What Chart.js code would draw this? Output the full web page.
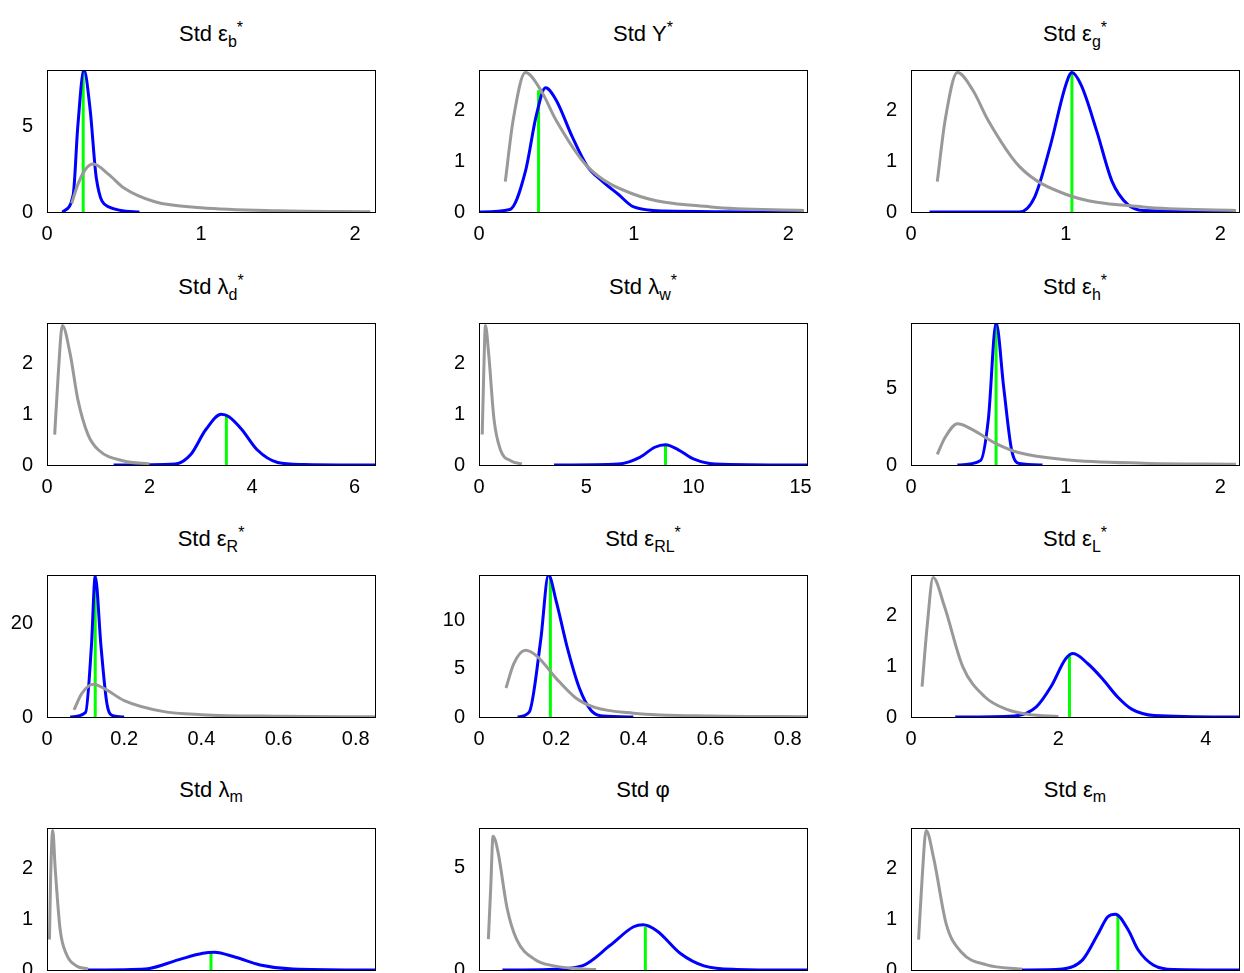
<!DOCTYPE html>
<html><head><meta charset="utf-8">
<script src="https://cdn.jsdelivr.net/npm/chart.js@4"></script>
<style>
body{margin:0;background:#fff;width:1244px;height:973px;overflow:hidden;position:relative;font-family:"Liberation Sans",Arial,sans-serif}
canvas{position:absolute}
.t{position:absolute;font-size:22px;text-align:center;width:300px;white-space:nowrap}
.t sub,.t sup{font-size:16px}
</style></head><body>
<script>
// titles
var titles = ['Std &epsilon;<sub>b</sub><sup>*</sup>', 'Std &Upsilon;<sup>*</sup>', 'Std &epsilon;<sub>g</sub><sup>*</sup>',
  'Std &lambda;<sub>d</sub><sup>*</sup>', 'Std &lambda;<sub>w</sub><sup>*</sup>', 'Std &epsilon;<sub>h</sub><sup>*</sup>',
  'Std &epsilon;<sub>R</sub><sup>*</sup>', 'Std &epsilon;<sub>RL</sub><sup>*</sup>', 'Std &epsilon;<sub>L</sub><sup>*</sup>',
  'Std &lambda;<sub>m</sub>', 'Std &phi;', 'Std &epsilon;<sub>m</sub>'];

// prior (gray) and posterior (blue) densities, [x, y]
var prior_eb = [[0.16,0.5],[0.2,1.6],[0.25,2.5],[0.3,2.8],[0.4,2.2],[0.5,1.4],[0.7,0.6],[1,0.25],[1.5,0.07],[2.1,0.02]];
var post_eb = [[0.1,0],[0.17,1],[0.2,5],[0.24,8.3],[0.28,6],[0.32,2],[0.4,0.3],[0.6,0]];
var prior_ups = [[0.17,0.6],[0.22,1.8],[0.3,2.75],[0.4,2.4],[0.5,1.8],[0.7,0.9],[1,0.35],[1.5,0.1],[2.1,0.03]];
var post_ups = [[0,0],[0.2,0.05],[0.3,0.8],[0.37,1.9],[0.43,2.45],[0.5,2.2],[0.6,1.5],[0.7,0.9],[0.8,0.6],[0.9,0.35],[1,0.1],[1.2,0.02],[2.1,0]];
var prior_eg = [[0.17,0.6],[0.22,1.8],[0.3,2.75],[0.4,2.4],[0.5,1.8],[0.7,0.9],[1,0.35],[1.5,0.1],[2.1,0.03]];
var post_eg = [[0.12,0],[0.7,0],[0.8,0.3],[0.9,1.3],[1,2.5],[1.04,2.75],[1.1,2.5],[1.2,1.6],[1.3,0.6],[1.4,0.15],[1.5,0.03],[2.1,0]];
var prior_ld = [[0.15,0.6],[0.22,1.8],[0.3,2.75],[0.45,2.2],[0.6,1.3],[0.8,0.6],[1,0.3],[1.5,0.08],[2,0.02]];
var post_ld = [[1.3,0],[2.5,0.02],[2.8,0.2],[3.1,0.7],[3.4,1.0],[3.55,0.95],[3.8,0.7],[4.1,0.3],[4.5,0.05],[5,0.01],[6.4,0]];
var prior_lw = [[0.15,0.6],[0.22,1.8],[0.3,2.75],[0.45,2.2],[0.7,0.9],[1,0.3],[1.5,0.08],[2,0.02]];
var post_lw = [[3.5,0],[6.5,0.02],[7.5,0.15],[8.2,0.35],[8.7,0.4],[9.3,0.3],[10,0.12],[11,0.02],[15.3,0]];
var prior_eh = [[0.17,0.7],[0.22,1.8],[0.3,2.7],[0.4,2.3],[0.55,1.4],[0.7,0.8],[1,0.35],[1.5,0.12],[2.1,0.05]];
var post_eh = [[0.3,0],[0.45,0.3],[0.5,3],[0.55,9.3],[0.6,5],[0.65,1],[0.7,0.1],[0.85,0]];
var prior_eR = [[0.07,1.5],[0.09,5],[0.12,7],[0.15,6],[0.2,3.5],[0.3,1.2],[0.4,0.5],[0.6,0.15],[0.85,0.05]];
var post_eR = [[0.06,0],[0.1,1],[0.115,15],[0.125,30],[0.14,15],[0.155,3],[0.17,0.3],[0.2,0]];
var prior_eRL = [[0.07,3],[0.09,5.5],[0.12,6.9],[0.15,6.3],[0.2,4],[0.25,2],[0.3,1],[0.4,0.4],[0.6,0.1],[0.85,0.03]];
var post_eRL = [[0.1,0],[0.13,0.5],[0.16,8],[0.18,14.7],[0.2,12],[0.23,7],[0.26,3],[0.29,0.7],[0.32,0.1],[0.4,0]];
var prior_eL = [[0.15,0.6],[0.22,1.8],[0.3,2.75],[0.45,2.2],[0.7,1.0],[1,0.4],[1.3,0.15],[1.6,0.05],[2,0.01]];
var post_eL = [[0.6,0],[1.4,0.02],[1.7,0.2],[1.9,0.6],[2.1,1.15],[2.2,1.25],[2.4,1.05],[2.6,0.75],[2.8,0.4],[3,0.15],[3.3,0.03],[4.45,0]];
var prior_lm = [[0.15,0.6],[0.22,1.8],[0.35,2.75],[0.5,2],[0.8,0.8],[1.2,0.3],[1.8,0.08],[2.5,0.02]];
var post_lm = [[2.5,0],[6,0.02],[8,0.2],[9.5,0.33],[10.2,0.35],[11.5,0.25],[13,0.1],[15,0.02],[20,0]];
var prior_phi = [[0.2,1.5],[0.25,4],[0.3,6.5],[0.4,5.8],[0.6,3],[0.8,1.5],[1.2,0.5],[1.6,0.2],[2.2,0.05],[2.5,0.02]];
var post_phi = [[0.5,0],[1.5,0.03],[2.2,0.2],[2.8,1.2],[3.3,2.1],[3.5,2.2],[3.8,1.9],[4.3,0.8],[4.8,0.2],[5.5,0.03],[7,0]];
var prior_em = [[0.15,0.6],[0.22,1.8],[0.3,2.75],[0.45,2.2],[0.7,0.9],[1,0.35],[1.5,0.1],[2.2,0.02]];
var post_em = [[2.2,0],[3,0.02],[3.4,0.2],[3.7,0.7],[3.9,1.05],[4.05,1.1],[4.3,0.8],[4.5,0.4],[4.8,0.1],[5.2,0.01],[6.5,0]];

// mode [x, height]
var modes = [[0.235,8.3],[0.385,2.4],[1.04,2.75],[3.5,1.0],[8.7,0.4],[0.55,9.3],[0.125,30],[0.185,14.5],[2.15,1.25],[10,0.33],[3.55,2.1],[4.1,1.1]];
var priors = [prior_eb,prior_ups,prior_eg,prior_ld,prior_lw,prior_eh,prior_eR,prior_eRL,prior_eL,prior_lm,prior_phi,prior_em];
var posts = [post_eb,post_ups,post_eg,post_ld,post_lw,post_eh,post_eR,post_eRL,post_eL,post_lm,post_phi,post_em];

var xMax = [2.13,2.12,2.12,6.4,15.3,2.12,0.85,0.85,4.45,20,7,6.5];
var yMax = [8.3,2.8,2.8,2.8,2.8,9.3,30.3,14.7,2.8,2.8,6.9,2.8];
var xTicks = [[0,1,2],[0,1,2],[0,1,2],[0,2,4,6],[0,5,10,15],[0,1,2],[0,0.2,0.4,0.6,0.8],[0,0.2,0.4,0.6,0.8],[0,2,4],[0,5,10,15,20],[0,2,4,6],[0,2,4,6]];
var yTicks = [[0,5],[0,1,2],[0,1,2],[0,1,2],[0,1,2],[0,5],[0,20],[0,5,10],[0,1,2],[0,1,2],[0,5],[0,1,2]];

var colLeft = [47,479,911], plotW = 328, plotH = 141;
var rowTop = [71,324,576,829];

var frame = {
  id: 'frame',
  afterDraw: function(c) {
    var a = c.chartArea, ctx = c.ctx;
    ctx.save();
    ctx.strokeStyle = '#000'; ctx.lineWidth = 1;
    ctx.strokeRect(a.left + 0.5, a.top + 0.5, a.right - a.left, a.bottom - a.top);
    ctx.restore();
  }
};

function pts(arr) {
  return arr.map(function(p) { return {x: p[0], y: p[1]}; });
}

for (var i = 0; i < 12; i++) {
  var r = Math.floor(i / 3), col = i % 3;
  var L = colLeft[col], T = rowTop[r];
  var t = document.createElement('div');
  t.className = 't';
  t.innerHTML = titles[i];
  t.style.left = (L + plotW / 2 - 150) + 'px';
  t.style.top = (T - 52) + 'px';
  document.body.appendChild(t);

  var cv = document.createElement('canvas');
  cv.style.left = (L - 45) + 'px';
  cv.style.top = (T - 19) + 'px';
  cv.style.width = (plotW + 60) + 'px';
  cv.style.height = (plotH + 49) + 'px';
  cv.width = plotW + 60; cv.height = plotH + 49;
  document.body.appendChild(cv);

  (function(i) {
    new Chart(cv, {
      type: 'line',
      data: {
        datasets: [
          {data: pts(priors[i]), borderColor: '#999999', borderWidth: 3, pointRadius: 0, cubicInterpolationMode: 'monotone'},
          {data: pts(posts[i]), borderColor: '#0000ff', borderWidth: 3, pointRadius: 0, cubicInterpolationMode: 'monotone'},
          {data: [{x: modes[i][0], y: 0}, {x: modes[i][0], y: modes[i][1]}], borderColor: '#00ff00', borderWidth: 3, pointRadius: 0}
        ]
      },
      options: {
        responsive: false, animation: false, clip: 0,
        layout: {padding: {top: 5, right: 15, left: 0, bottom: 0}},
        plugins: {legend: {display: false}, tooltip: {enabled: false}},
        scales: {
          x: {
            type: 'linear', min: 0, max: xMax[i],
            grid: {display: false}, border: {display: false},
            afterBuildTicks: function(s) { s.ticks = xTicks[i].map(function(v) { return {value: v}; }); },
            afterFit: function(s) { s.height = 30; },
            ticks: {color: '#000', font: {family: 'Liberation Sans', size: 20}, padding: 2, maxRotation: 0,
              callback: function(v) { return String(+v.toFixed(2)); }}
          },
          y: {
            min: 0, max: yMax[i],
            grid: {display: false}, border: {display: false},
            afterBuildTicks: function(s) { s.ticks = yTicks[i].map(function(v) { return {value: v}; }); },
            afterFit: function(s) { s.width = 45; },
            ticks: {color: '#000', font: {family: 'Liberation Sans', size: 20}, padding: 6}
          }
        }
      },
      plugins: [frame]
    });
  })(i);
}
</script>
</body></html>
